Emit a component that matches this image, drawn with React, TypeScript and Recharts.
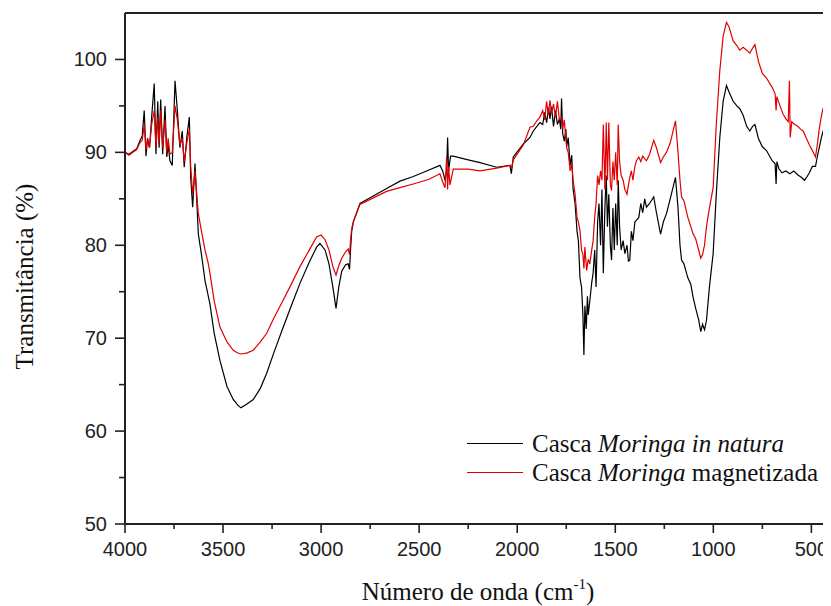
import { LineChart, Line, XAxis, YAxis, Legend, ReferenceLine } from "recharts";

// [número de onda (cm-1), transmitância (%)]
const inNatura: [number, number][] = [
  [4000, 90.0], [3980, 89.8], [3960, 90.1], [3940, 90.4], [3925, 91.2], [3912, 91.8], [3902, 94.5], [3893, 89.6],
  [3885, 91.5], [3875, 90.5], [3864, 93.8], [3851, 97.4], [3842, 89.8], [3833, 95.5], [3826, 90.5], [3818, 95.7],
  [3808, 89.8], [3796, 95.0], [3787, 89.5], [3780, 90.8], [3771, 89.1], [3759, 88.6], [3745, 97.7], [3733, 94.5],
  [3720, 90.5], [3708, 92.3], [3698, 88.4], [3685, 91.6], [3672, 93.8], [3665, 87.3], [3655, 84.1], [3643, 88.8],
  [3634, 84.8], [3626, 81.2], [3610, 79.0], [3592, 76.2], [3575, 74.5], [3567, 73.7], [3545, 70.5], [3516, 67.6],
  [3480, 64.8], [3448, 63.4], [3425, 62.8], [3409, 62.5], [3380, 62.9], [3346, 63.4], [3310, 64.6], [3278, 66.2],
  [3240, 68.5], [3193, 71.2], [3150, 73.6], [3108, 75.9], [3060, 78.2], [3023, 79.8], [3006, 80.2], [2980, 79.5],
  [2960, 78.0], [2940, 75.5], [2924, 73.2], [2910, 75.5], [2895, 77.2], [2875, 77.9], [2862, 78.0], [2855, 77.4],
  [2850, 79.5], [2844, 81.5], [2836, 82.5], [2802, 84.5], [2734, 85.3], [2666, 86.1], [2598, 86.9], [2530, 87.4],
  [2450, 88.1], [2394, 88.6], [2380, 88.0], [2368, 87.0], [2360, 88.0], [2355, 91.6], [2350, 88.0], [2340, 89.6],
  [2326, 89.6], [2250, 89.2], [2190, 88.9], [2105, 88.4], [2037, 88.6], [2030, 87.7], [2020, 89.5], [1969, 90.9],
  [1935, 91.6], [1918, 92.3], [1900, 92.8], [1884, 93.2], [1870, 93.0], [1860, 94.3], [1850, 93.2], [1840, 94.8],
  [1833, 93.6], [1825, 94.9], [1815, 92.8], [1805, 94.5], [1795, 93.0], [1785, 93.6], [1778, 92.5], [1774, 95.8],
  [1768, 92.0], [1760, 91.2], [1752, 92.5], [1748, 90.6], [1740, 91.6], [1730, 88.6], [1722, 89.7], [1715, 86.0],
  [1705, 84.5], [1695, 81.5], [1688, 80.5], [1680, 76.5], [1672, 75.5], [1665, 72.5], [1660, 68.2], [1655, 73.5],
  [1648, 71.0], [1642, 74.5], [1638, 72.5], [1630, 74.0], [1620, 76.0], [1613, 77.0], [1605, 79.5], [1598, 75.5],
  [1590, 82.5], [1583, 84.5], [1575, 80.0], [1568, 86.0], [1561, 77.0], [1553, 84.0], [1546, 87.5], [1540, 82.0],
  [1533, 85.5], [1525, 80.0], [1519, 78.4], [1512, 84.0], [1505, 79.5], [1498, 84.5], [1490, 80.0], [1485, 87.0],
  [1478, 82.0], [1470, 79.5], [1460, 80.5], [1451, 79.1], [1440, 80.0], [1433, 78.3], [1426, 78.4], [1418, 81.5],
  [1410, 80.5], [1400, 82.5], [1392, 82.7], [1380, 83.0], [1370, 84.5], [1360, 83.5], [1350, 85.0], [1341, 84.1],
  [1325, 84.5], [1304, 85.2], [1290, 83.5], [1269, 81.2], [1255, 82.5], [1239, 83.4], [1220, 85.0], [1193, 87.3],
  [1180, 84.0], [1170, 80.0], [1162, 78.4], [1150, 78.0], [1130, 76.5], [1115, 75.8], [1103, 74.4], [1090, 73.2],
  [1075, 72.0], [1064, 70.7], [1055, 71.5], [1045, 70.9], [1035, 71.9], [1020, 75.5], [1001, 79.1], [985, 85.5],
  [967, 91.6], [950, 95.5], [933, 97.2], [920, 96.5], [899, 95.5], [880, 95.0], [865, 94.7], [848, 94.0],
  [830, 92.8], [814, 92.3], [800, 92.8], [788, 93.0], [770, 91.5], [750, 90.6], [729, 90.2], [700, 89.1],
  [685, 88.8], [680, 86.6], [676, 89.0], [665, 88.2], [650, 87.8], [630, 88.0], [610, 87.7], [590, 88.0],
  [570, 87.6], [550, 87.3], [535, 87.0], [525, 87.3], [510, 87.8], [495, 88.5], [479, 88.5], [470, 89.5],
  [460, 90.5], [450, 91.5], [440, 92.3], [430, 93.2], [420, 92.5], [414, 92.7], [407, 91.0], [400, 92.5],
];

const magnetizada: [number, number][] = [
  [4000, 90.0], [3980, 89.7], [3960, 90.0], [3940, 90.3], [3925, 91.0], [3912, 91.3], [3902, 93.0], [3893, 90.3],
  [3885, 91.5], [3875, 90.5], [3864, 93.0], [3851, 94.5], [3842, 90.5], [3833, 93.8], [3826, 91.0], [3818, 94.5],
  [3808, 90.5], [3796, 93.5], [3787, 90.0], [3780, 91.5], [3771, 89.8], [3759, 90.0], [3745, 95.0], [3733, 93.5],
  [3720, 90.8], [3708, 91.5], [3698, 89.0], [3685, 91.0], [3672, 92.5], [3665, 88.5], [3655, 85.5], [3643, 88.0],
  [3634, 85.5], [3626, 83.4], [3610, 81.5], [3592, 79.5], [3575, 78.0], [3567, 77.0], [3545, 74.0], [3516, 71.2],
  [3480, 69.6], [3448, 68.7], [3425, 68.4], [3409, 68.3], [3380, 68.4], [3346, 68.7], [3310, 69.6], [3278, 70.5],
  [3240, 72.2], [3193, 74.1], [3150, 75.9], [3108, 77.7], [3060, 79.5], [3023, 80.9], [3000, 81.1], [2980, 80.6],
  [2960, 79.5], [2940, 77.7], [2924, 76.8], [2910, 77.8], [2895, 78.6], [2875, 79.3], [2862, 79.6], [2855, 79.0],
  [2850, 80.5], [2844, 81.8], [2836, 82.5], [2802, 84.4], [2734, 85.1], [2666, 85.8], [2598, 86.2], [2530, 86.6],
  [2450, 87.1], [2394, 87.7], [2380, 86.8], [2368, 86.2], [2360, 89.5], [2355, 86.0], [2350, 88.5], [2343, 86.5],
  [2326, 88.2], [2250, 88.2], [2190, 88.0], [2105, 88.3], [2037, 88.6], [2028, 88.4], [2020, 89.2], [1969, 90.8],
  [1935, 92.7], [1918, 92.8], [1900, 93.4], [1884, 93.8], [1870, 94.5], [1860, 93.5], [1850, 95.5], [1842, 94.0],
  [1833, 95.6], [1825, 94.2], [1815, 95.2], [1805, 93.8], [1795, 95.5], [1785, 93.5], [1774, 93.8], [1768, 92.5],
  [1760, 93.5], [1748, 90.5], [1740, 90.0], [1730, 88.0], [1722, 88.8], [1715, 87.0], [1705, 85.5], [1695, 83.0],
  [1688, 82.5], [1680, 81.6], [1672, 79.5], [1665, 79.0], [1660, 77.5], [1655, 79.8], [1646, 77.3], [1638, 78.5],
  [1630, 78.0], [1620, 79.5], [1613, 80.5], [1605, 83.0], [1598, 84.5], [1590, 87.5], [1583, 86.5], [1575, 88.0],
  [1568, 87.0], [1561, 93.0], [1553, 86.0], [1546, 93.2], [1540, 87.0], [1533, 93.2], [1525, 86.5], [1519, 85.9],
  [1512, 89.0], [1505, 87.0], [1498, 90.0], [1490, 86.5], [1485, 93.0], [1478, 89.0], [1470, 87.5], [1460, 87.0],
  [1451, 86.0], [1440, 85.5], [1433, 86.5], [1426, 87.3], [1418, 88.0], [1410, 87.0], [1400, 88.5], [1392, 89.1],
  [1380, 89.5], [1370, 89.0], [1360, 89.6], [1350, 89.3], [1341, 89.1], [1325, 89.8], [1304, 91.3], [1290, 90.5],
  [1269, 88.9], [1255, 89.5], [1239, 90.0], [1220, 91.0], [1193, 93.4], [1180, 90.0], [1170, 87.0], [1162, 85.2],
  [1150, 84.8], [1130, 83.0], [1115, 82.0], [1103, 81.2], [1090, 80.7], [1075, 79.5], [1064, 78.6], [1055, 79.0],
  [1045, 80.0], [1035, 82.0], [1020, 84.0], [1001, 86.2], [985, 93.0], [967, 98.8], [950, 102.5], [933, 104.0],
  [920, 103.5], [899, 102.0], [880, 101.5], [865, 101.0], [848, 101.3], [830, 101.0], [814, 100.7], [800, 101.2],
  [788, 101.6], [770, 99.8], [750, 98.5], [729, 98.0], [700, 97.0], [685, 96.3], [680, 94.5], [676, 96.0],
  [660, 95.0], [644, 94.1], [630, 93.6], [618, 93.3], [612, 97.7], [608, 91.6], [600, 93.3], [585, 93.0],
  [570, 92.8], [555, 92.5], [542, 92.3], [525, 91.5], [510, 90.8], [495, 90.2], [479, 89.5], [470, 90.8],
  [460, 92.5], [450, 93.8], [440, 94.8], [430, 94.0], [420, 95.5], [414, 97.0], [408, 93.0], [400, 95.0],
];

const xTicks = [500, 750, 1000, 1250, 1500, 1750, 2000, 2250, 2500, 2750, 3000, 3250, 3500, 3750, 4000];
const yTicks = [50, 55, 60, 65, 70, 75, 80, 85, 90, 95, 100];

const SANS = "'Liberation Sans', Arial, sans-serif";
const SERIF = "'Liberation Serif', 'Times New Roman', serif";
const AXIS = "#222";

const toRows = (pts: [number, number][]) => pts.map(([wn, t]) => ({ wn, t }));

function XTick({ x, y, payload }: any) {
  const major = payload.value % 500 === 0;
  return (
    <g>
      <line x1={x} x2={x} y1={y} y2={y + (major ? 9 : 5)} stroke={AXIS} strokeWidth={1.6} />
      {major && (
        <text x={x} y={y + 32} textAnchor="middle" fontFamily={SANS} fontSize={20} fill="#222">
          {payload.value}
        </text>
      )}
    </g>
  );
}

function YTick({ x, y, payload }: any) {
  const major = payload.value % 10 === 0;
  return (
    <g>
      <line x1={x - (major ? 10 : 6)} x2={x} y1={y} y2={y} stroke={AXIS} strokeWidth={1.6} />
      {major && (
        <text x={x - 18} y={y + 7} textAnchor="end" fontFamily={SANS} fontSize={20} fill="#222">
          {payload.value}
        </text>
      )}
    </g>
  );
}

function XTitle({ viewBox }: any) {
  return (
    <text x={viewBox.x + viewBox.width / 2} y={viewBox.y + 76} textAnchor="middle" fontFamily={SERIF} fontSize={25} fill="#111">
      Número de onda (cm<tspan dy={-11} fontSize={15}>-1</tspan>
      <tspan dy={11}>)</tspan>
    </text>
  );
}

function YTitle({ viewBox }: any) {
  const cx = viewBox.x + 25;
  const cy = viewBox.y + viewBox.height / 2 + 8;
  return (
    <text x={cx} y={cy} textAnchor="middle" fontFamily={SERIF} fontSize={25} fill="#111" transform={`rotate(-90, ${cx}, ${cy})`}>
      Transmitância (%)
    </text>
  );
}

function renderLegend() {
  const row = { display: "flex", alignItems: "center", height: 29 } as const;
  const swatch = (color: string) => (
    <span style={{ display: "inline-block", width: 56, borderTop: `1.5px solid ${color}`, marginRight: 9 }} />
  );
  return (
    <div style={{ fontFamily: SERIF, fontSize: 25, color: "#111", whiteSpace: "nowrap" }}>
      <div style={row}>
        {swatch("#000")}
        <span>Casca <i>Moringa in natura</i></span>
      </div>
      <div style={row}>
        {swatch("#e00000")}
        <span>Casca <i>Moringa</i> magnetizada</span>
      </div>
    </div>
  );
}

export default function App() {
  return (
    <LineChart width={823} height={598} margin={{ top: 5, right: 0, left: 0, bottom: 0 }}>
      <XAxis
        dataKey="wn"
        type="number"
        domain={[400, 4000]}
        reversed
        ticks={xTicks}
        interval={0}
        tickSize={0}
        tickMargin={0}
        tickLine={false}
        height={82}
        axisLine={{ stroke: AXIS, strokeWidth: 2 }}
        tick={<XTick />}
        label={<XTitle />}
        allowDataOverflow
      />
      <YAxis
        type="number"
        domain={[50, 105]}
        ticks={yTicks}
        interval={0}
        tickSize={0}
        tickMargin={0}
        tickLine={false}
        width={117}
        axisLine={{ stroke: AXIS, strokeWidth: 2 }}
        tick={<YTick />}
        label={<YTitle />}
        allowDataOverflow
      />
      <ReferenceLine y={105} stroke={AXIS} strokeWidth={2} />
      <Line
        data={toRows(inNatura)}
        dataKey="t"
        stroke="#000"
        strokeWidth={1.2}
        dot={false}
        type="linear"
        isAnimationActive={false}
      />
      <Line
        data={toRows(magnetizada)}
        dataKey="t"
        stroke="#e00000"
        strokeWidth={1.2}
        dot={false}
        type="linear"
        isAnimationActive={false}
      />
      <Legend
        layout="vertical"
        align="center"
        verticalAlign="middle"
        content={renderLegend}
        wrapperStyle={{ left: 459, top: 421, width: 380 }}
      />
    </LineChart>
  );
}
